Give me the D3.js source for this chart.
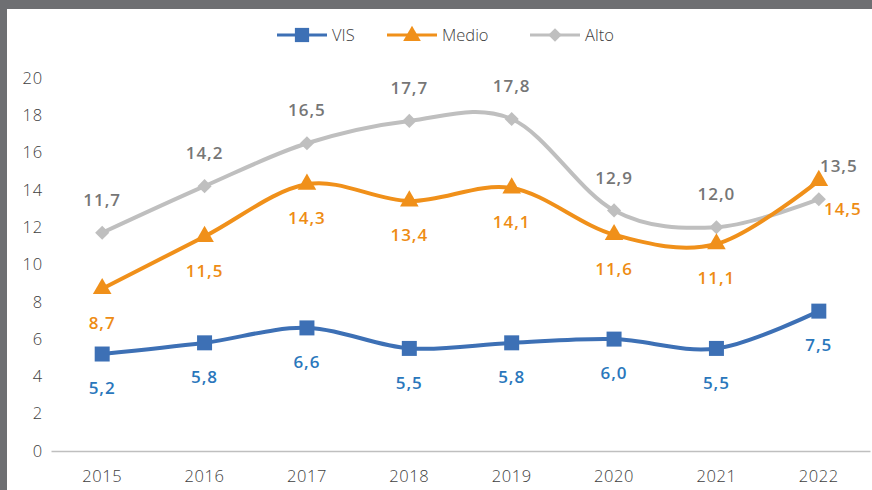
<!DOCTYPE html>
<html>
<head>
<meta charset="utf-8">
<script src="https://cdn.jsdelivr.net/npm/d3@7"></script>
<style>
  body { margin: 0; background: #fff; }
  svg { display: block; font-family: "Open Sans", sans-serif; }
</style>
</head>
<body>
<svg id="chart" width="872" height="490"></svg>
<script>
// data
const years = ["2015", "2016", "2017", "2018", "2019", "2020", "2021", "2022"];
const vis = [5.2, 5.8, 6.6, 5.5, 5.8, 6.0, 5.5, 7.5];
const medio = [8.7, 11.5, 14.3, 13.4, 14.1, 11.6, 11.1, 14.5];
const alto = [11.7, 14.2, 16.5, 17.7, 17.8, 12.9, 12.0, 13.5];
const yTicks = [0, 2, 4, 6, 8, 10, 12, 14, 16, 18, 20];

// dimensions
const width = 872, height = 490;
const plotLeft = 51, plotRight = 870, plotTop = 78, plotBottom = 451;

const svg = d3.select("#chart");

// frame (gray border on top and left)
svg.append("rect").attr("x", 0).attr("y", 0).attr("width", width).attr("height", 9).attr("fill", "#6e6f72");
svg.append("rect").attr("x", 0).attr("y", 0).attr("width", 7).attr("height", height).attr("fill", "#6e6f72");

const x = d3.scaleBand().domain(years).range([plotLeft, plotRight]);
const y = d3.scaleLinear().domain([0, 20]).range([plotBottom, plotTop]);
const cx = d => x(d) + x.bandwidth() / 2;

// y axis labels
const yAxis = svg.append("g")
  .attr("transform", `translate(${plotLeft - 8},0)`)
  .call(d3.axisLeft(y).tickValues(yTicks).tickSize(0).tickPadding(0))
  .attr("font-family", "Open Sans");
yAxis.select(".domain").remove();
yAxis.selectAll("text")
  .attr("fill", "#404040")
  .style("font-size", "16.5px")
  .style("font-weight", 300)
  .style("letter-spacing", "0.8px");

// x axis
const xAxis = svg.append("g")
  .attr("transform", `translate(0,${plotBottom})`)
  .call(d3.axisBottom(x).tickSize(0).tickPadding(19))
  .attr("font-family", "Open Sans");
xAxis.select(".domain").attr("stroke", "#bfbfbf").attr("stroke-width", 1.5);
xAxis.selectAll("text")
  .attr("fill", "#404040")
  .style("font-size", "16.5px")
  .style("font-weight", 300)
  .style("letter-spacing", "0.6px");

const line = d3.line()
  .x((d, i) => cx(years[i]))
  .y(d => y(d))
  .curve(d3.curveCardinal.tension(0));

// diamond = square turned 45 degrees
const series = [
  { name: "VIS", values: vis, color: "#3d70b5", labelColor: "#2a77bc", marker: d3.symbolSquare, size: 225, rot: 0, pos: "below" },
  { name: "Medio", values: medio, color: "#f0901a", labelColor: "#ee8c14", marker: d3.symbolTriangle, size: 150, rot: 0, pos: "below" },
  { name: "Alto", values: alto, color: "#bfbfbf", labelColor: "#767676", marker: d3.symbolSquare, size: 100, rot: 45, pos: "above" }
];

// special label offsets for last year
const lastOffsets = { Medio: [24, 28], Alto: [20, -33] };

// draw lines (alto first, then medio, vis)
[series[2], series[1], series[0]].forEach(s => {
  svg.append("path")
    .attr("d", line(s.values))
    .attr("fill", "none")
    .attr("stroke", s.color)
    .attr("stroke-width", 4)
    .attr("stroke-linejoin", "round");

  svg.append("g").selectAll("path")
    .data(s.values)
    .join("path")
      .attr("transform", (d, i) => `translate(${cx(years[i])},${y(d)}) rotate(${s.rot})`)
      .attr("d", d3.symbol().type(s.marker).size(s.size))
      .attr("fill", s.color);
});

// data labels
series.forEach(s => {
  svg.append("g").selectAll("text")
    .data(s.values)
    .join("text")
      .attr("x", (d, i) => cx(years[i]) + (i === years.length - 1 && lastOffsets[s.name] ? lastOffsets[s.name][0] : 0))
      .attr("y", (d, i) => {
        let off = s.pos === "below" ? 34 : -33;
        if (i === years.length - 1 && lastOffsets[s.name]) off = lastOffsets[s.name][1];
        return y(d) + off;
      })
      .attr("dy", "0.36em")
      .attr("text-anchor", "middle")
      .attr("fill", s.labelColor)
      .style("font-size", "17px")
      .style("font-weight", 600)
      .style("letter-spacing", "1px")
      .text(d => d.toFixed(1).replace(".", ","));
});

// legend
const legendItems = [
  { s: series[0], x0: 277 },
  { s: series[1], x0: 387 },
  { s: series[2], x0: 530 }
];
const legend = svg.append("g").attr("transform", "translate(0,35)");
legendItems.forEach(({ s, x0 }) => {
  legend.append("line")
    .attr("x1", x0).attr("x2", x0 + 50)
    .attr("stroke", s.color).attr("stroke-width", 3);
  legend.append("path")
    .attr("transform", `translate(${x0 + 25},${s.marker === d3.symbolTriangle ? 1 : 0}) rotate(${s.rot})`)
    .attr("d", d3.symbol().type(s.marker).size(s.size * 0.9))
    .attr("fill", s.color);
  legend.append("text")
    .attr("x", x0 + 55)
    .attr("dy", "0.35em")
    .attr("fill", "#404040")
    .style("font-size", "16.5px")
    .style("font-weight", 300)
    .text(s.name);
});
</script>
</body>
</html>
